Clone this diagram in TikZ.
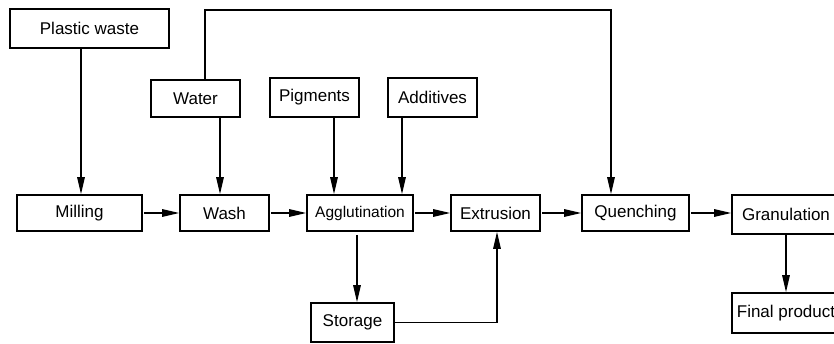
\documentclass[tikz,border=0pt]{standalone}
\usepackage{fontspec}
\setsansfont{Liberation Sans}
\usetikzlibrary{arrows.meta}

\begin{document}
\begin{tikzpicture}[x=1pt,y=-1pt,
  box/.style={rectangle,draw,line width=1.6pt,inner sep=0pt,font=\sffamily\fontsize{17}{20}\selectfont},
  arr/.style={line width=1.4pt,-{Triangle[length=17pt,width=7.5pt]}}]

  \useasboundingbox (0,0) rectangle (834,344);
  \clip (0,0) rectangle (834,344);

  \node[box,minimum width=159pt,minimum height=39pt] (waste) at (89.5,28.5) {Plastic waste};
  \node[box,minimum width=89pt,minimum height=37pt] (water) at (195.5,98.5) {Water};
  \node[box,minimum width=89pt,minimum height=39pt] (pigments) at (314.5,97.5) {Pigments};
  \node[box,minimum width=89pt,minimum height=39pt] (additives) at (432.5,97.5) {Additives};

  \node[box,minimum width=125pt,minimum height=36pt] (milling) at (79.5,213) {Milling};
  \node[box,minimum width=89pt,minimum height=36pt] (wash) at (224.5,213) {Wash};
  \node[box,minimum width=106pt,minimum height=36pt,font=\sffamily\fontsize{15.5}{18}\selectfont] (agglut) at (360,213) {Agglutination};
  \node[box,minimum width=89pt,minimum height=36pt] (extrusion) at (495.5,213) {Extrusion};
  \node[box,minimum width=107pt,minimum height=36pt] (quenching) at (635.5,213) {Quenching};
  \node[box,minimum width=108pt,minimum height=39pt] (granulation) at (786,214.5) {Granulation};

  \node[box,minimum width=83pt,minimum height=39pt] (storage) at (352.5,322.5) {Storage};
  \node[box,minimum width=108pt,minimum height=40pt] (final) at (786,313) {Final product};

  % feeds from above
  \draw[arr] (waste.south -| 81,0) -- (milling.north -| 81,0);
  \draw[arr] (water.south -| 220,0) -- (wash.north -| 220,0);
  \draw[arr] (pigments.south -| 334,0) -- (agglut.north -| 334,0);
  \draw[arr] (additives.south -| 402,0) -- (agglut.north -| 402,0);
  \draw[arr] (water.north -| 205,0) -- (205,10) -- (611,10) -- (quenching.north -| 611,0);

  % main line
  \path[arr,shorten <=1.5pt]
    (milling) edge (wash)
    (wash) edge (agglut)
    (agglut) edge (extrusion)
    (extrusion) edge (quenching)
    (quenching) edge (granulation.west |- quenching);

  \draw[arr,shorten <=3pt] (agglut.south -| 357,0) -- (storage.north -| 357,0);
  \draw[arr] (storage.east) -| (extrusion.south -| 497,0);
  \draw[arr] (granulation.south) -- (final.north);
\end{tikzpicture}
\end{document}
